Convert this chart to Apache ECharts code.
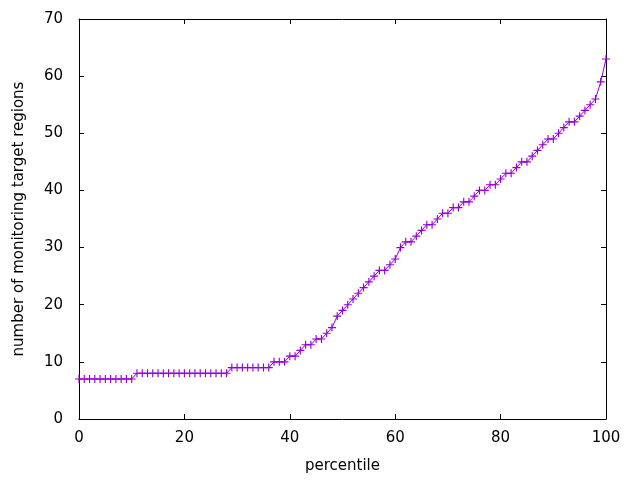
<!DOCTYPE html>
<html>
<head>
<meta charset="utf-8">
<script src="https://cdn.jsdelivr.net/npm/echarts@6/dist/echarts.min.js"></script>
<style>
html,body{margin:0;padding:0;background:#fff;}
#chart{width:640px;height:480px;}
</style>
</head>
<body>
<div id="chart"></div>
<script>
const percentiles = [0,1,2,3,4,5,6,7,8,9,10,11,12,13,14,15,16,17,18,19,20,21,22,23,24,25,26,27,28,29,30,31,32,33,34,35,36,37,38,39,40,41,42,43,44,45,46,47,48,49,50,51,52,53,54,55,56,57,58,59,60,61,62,63,64,65,66,67,68,69,70,71,72,73,74,75,76,77,78,79,80,81,82,83,84,85,86,87,88,89,90,91,92,93,94,95,96,97,98,99,100];
const regions = [7,7,7,7,7,7,7,7,7,7,7,
  8,8,8,8,8,8,8,8,8,8,8,8,8,8,8,8,8,8,
  9,9,9,9,9,9,9,9,
  10,10,10,
  11,11,12,13,13,14,14,15,16,18,19,20,21,22,23,24,25,26,26,27,28,
  30,31,31,32,33,34,34,35,36,36,37,37,38,38,39,40,40,41,41,42,43,43,44,45,45,46,47,48,49,49,50,51,52,52,53,54,55,56,59,63];
const xTicks = {min:0, max:100, interval:20};
const yTicks = {min:0, max:70, interval:10};
const xLabel = 'percentile';
const yLabel = 'number of monitoring target regions';

const chart = echarts.init(document.getElementById('chart'), null, {renderer:'canvas'});
const font = 'DejaVu Sans';
const fs = 15;
const lineColor = '#9400D3';
function axisCommon(){
  return {
    axisLine:{show:true, onZero:false, lineStyle:{color:'#000', width:1}},
    axisTick:{show:true, inside:true, length:5, lineStyle:{color:'#000', width:1}},
    splitLine:{show:false}
  };
}
chart.setOption({
  animation:false,
  backgroundColor:'#fff',
  grid:{left:79, top:19, width:527, height:400, containLabel:false},
  xAxis:[
    Object.assign({type:'value', position:'bottom', min:xTicks.min, max:xTicks.max, interval:xTicks.interval,
      name:xLabel, nameLocation:'middle', nameGap:40,
      nameTextStyle:{fontFamily:font, fontSize:fs, color:'#000'},
      axisLabel:{fontFamily:font, fontSize:fs, color:'#000', margin:12}}, axisCommon()),
    Object.assign({type:'value', position:'top', min:xTicks.min, max:xTicks.max, interval:xTicks.interval,
      axisLabel:{show:false}}, axisCommon())
  ],
  yAxis:[
    Object.assign({type:'value', position:'left', min:yTicks.min, max:yTicks.max, interval:yTicks.interval,
      name:yLabel, nameLocation:'middle', nameGap:52,
      nameTextStyle:{fontFamily:font, fontSize:fs, color:'#000'},
      axisLabel:{fontFamily:font, fontSize:fs, color:'#000', margin:16}}, axisCommon()),
    Object.assign({type:'value', position:'right', min:yTicks.min, max:yTicks.max, interval:yTicks.interval,
      axisLabel:{show:false}}, axisCommon())
  ],
  series:[{
    type:'line',
    xAxisIndex:0, yAxisIndex:0,
    data: percentiles.map((p,i)=>[p, regions[i]]),
    lineStyle:{color:lineColor, width:1},
    itemStyle:{color:lineColor},
    symbol:'path://M3,0L4,0L4,3L7,3L7,4L4,4L4,7L3,7L3,4L0,4L0,3L3,3Z',
    symbolSize:8,
    showSymbol:true,
    showAllSymbol:true,
    clip:false
  }]
});
</script>
</body>
</html>
